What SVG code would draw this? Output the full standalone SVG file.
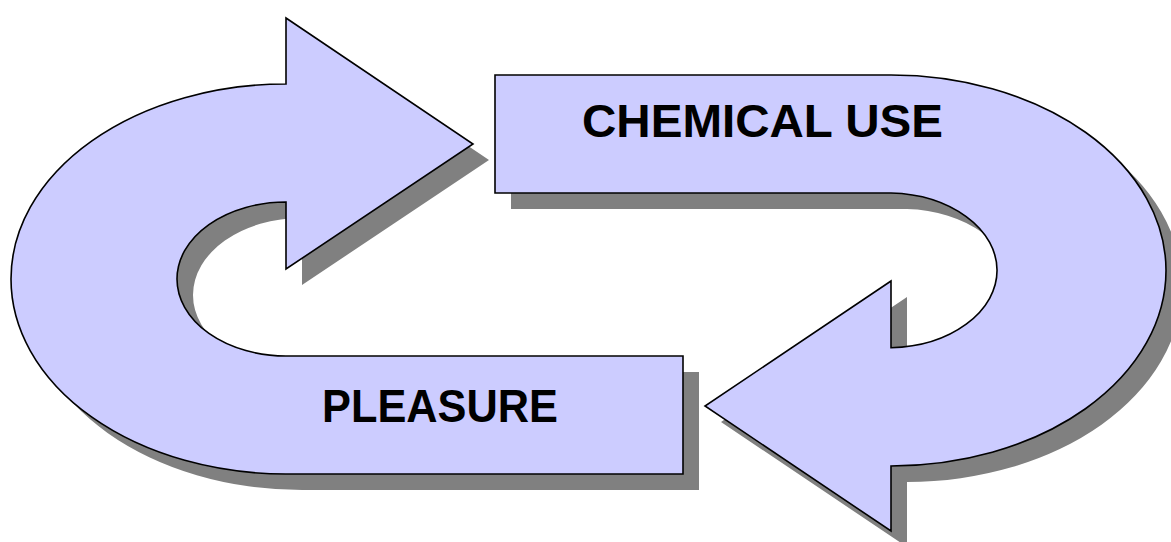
<svg xmlns="http://www.w3.org/2000/svg" xmlns:xlink="http://www.w3.org/1999/xlink" width="1171" height="542" viewBox="0 0 1171 542">
  <style>
    .shape { fill: #ccccff; stroke: #000000; stroke-width: 1.6; stroke-linejoin: miter; }
    .shadow { fill: #808080; stroke: none; }
    .label { font-family: "Liberation Sans", Arial, sans-serif; font-weight: bold; font-size: 47px; fill: #000000; }
  </style>
  <defs>
    <path id="leftArrow" d="M 286,18 L 473,144 L 286,269 L 286,202 A 109,77 0 0 0 286,356 L 683,356 L 683,474 L 286,474 A 275,195 0 0 1 286,84 Z"/>
    <path id="rightArrow" d="M 891,281 L 705,406 L 891,531 L 891,466 A 275,195.5 0 0 0 891,75 L 495,75 L 495,193 L 891,193 A 110,77.4 0 0 1 891,347.7 Z"/>
  </defs>
  <rect x="0" y="0" width="1171" height="542" fill="#ffffff"/>
  <g id="shadows">
    <use xlink:href="#leftArrow" href="#leftArrow" class="shadow" transform="translate(16,16)"/>
    <use xlink:href="#rightArrow" href="#rightArrow" class="shadow" transform="translate(16,16)"/>
  </g>
  <g id="connectors">
    <g id="arrow-pleasure-to-chemical">
      <use xlink:href="#leftArrow" href="#leftArrow" class="shape"/>
    </g>
    <g id="arrow-chemical-to-pleasure">
      <use xlink:href="#rightArrow" href="#rightArrow" class="shape"/>
    </g>
  </g>
  <g id="node-chemical-use">
    <text class="label" x="582" y="137" textLength="361" lengthAdjust="spacingAndGlyphs">CHEMICAL USE</text>
  </g>
  <g id="node-pleasure">
    <text class="label" x="322" y="422" textLength="236" lengthAdjust="spacingAndGlyphs">PLEASURE</text>
  </g>
</svg>
